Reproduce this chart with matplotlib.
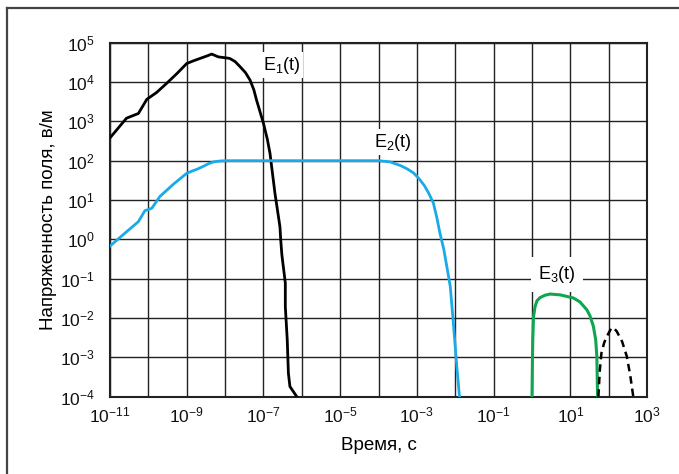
import numpy as np
import matplotlib.pyplot as plt
from matplotlib.ticker import FixedLocator, FuncFormatter, NullLocator
from matplotlib.lines import Line2D

plt.rcParams['font.family'] = ['Liberation Sans', 'DejaVu Sans']
plt.rcParams['mathtext.fontset'] = 'custom'
plt.rcParams['mathtext.rm'] = 'Liberation Sans'
plt.rcParams['mathtext.it'] = 'Liberation Sans'

# curves, as log10 values
e1_logx = [-11.0, -10.57, -10.26, -10.04, -9.79, -9.53, -9.25, -9.0, -8.82, -8.65,
           -8.45, -8.35, -8.18, -7.88, -7.74, -7.61, -7.47, -7.35, -7.25, -7.18,
           -7.0, -6.90, -6.83, -6.70, -6.57, -6.55, -6.52, -6.43, -6.43, -6.38,
           -6.35, -6.31, -6.13]
e1_logy = [2.58, 3.08, 3.20, 3.56, 3.73, 3.96, 4.22, 4.47, 4.54, 4.60,
           4.67, 4.71, 4.64, 4.60, 4.52, 4.39, 4.24, 4.05, 3.80, 3.54,
           2.95, 2.55, 2.19, 1.17, 0.32, -0.01, -0.39, -1.11, -1.71, -2.55,
           -3.40, -3.74, -4.0]

e2_logx = [-11.0, -10.74, -10.26, -10.09, -9.91, -9.70, -9.35, -9.0, -8.85, -8.74,
           -8.58, -8.44, -8.30, -8.15, -8.0, -6.0, -4.0, -3.70, -3.44, -3.25,
           -3.09, -2.95, -2.80, -2.68, -2.57, -2.48, -2.40, -2.30, -2.22, -2.13,
           -2.05, -1.96, -1.89]
e2_logy = [-0.17, 0.05, 0.45, 0.73, 0.79, 1.09, 1.40, 1.68, 1.74, 1.78,
           1.85, 1.92, 1.97, 1.99, 2.0, 2.0, 2.0, 1.97, 1.88, 1.79,
           1.69, 1.55, 1.36, 1.15, 0.92, 0.55, 0.16, -0.25, -0.69, -1.20,
           -2.13, -3.23, -4.0]

e3_logx = [0.0, 0.01, 0.02, 0.04, 0.08, 0.13, 0.21, 0.34, 0.47, 0.73,
           1.08, 1.25, 1.43, 1.51, 1.60, 1.66, 1.69, 1.71]
e3_logy = [-4.0, -3.2, -2.55, -1.96, -1.71, -1.56, -1.48, -1.42, -1.39, -1.41,
           -1.49, -1.59, -1.79, -1.94, -2.21, -2.55, -2.97, -4.0]

e4_logx = [1.73, 1.77, 1.81, 1.88, 1.95, 2.07, 2.14, 2.21, 2.35, 2.47, 2.56, 2.64]
e4_logy = [-4.0, -3.30, -2.89, -2.63, -2.47, -2.25, -2.26, -2.34, -2.60, -2.97, -3.45, -4.0]

x_decades = list(range(-11, 4))
y_decades = list(range(-4, 6))


def to_lin(v):
    return 10.0 ** np.asarray(v)


fig = plt.figure(figsize=(6.79, 4.74), dpi=100)
ax = fig.add_axes([0.162, 0.163, 0.791, 0.747])

ax.set_xscale('log')
ax.set_yscale('log')
ax.set_xlim(1e-11, 1e3)
ax.set_ylim(1e-4, 1e5)

ax.xaxis.set_major_locator(FixedLocator(to_lin(x_decades)))
ax.yaxis.set_major_locator(FixedLocator(to_lin(y_decades)))
ax.xaxis.set_minor_locator(NullLocator())
ax.yaxis.set_minor_locator(NullLocator())


def fmt_x(v, pos):
    e = int(round(np.log10(v)))
    if e % 2 == 0:
        return ''
    return r'$10^{%d}$' % e


def fmt_y(v, pos):
    e = int(round(np.log10(v)))
    return r'$10^{%d}$' % e


ax.xaxis.set_major_formatter(FuncFormatter(fmt_x))
ax.yaxis.set_major_formatter(FuncFormatter(fmt_y))
ax.tick_params(length=0, labelsize=12.5, colors='#111')
ax.tick_params(axis='x', pad=6)
ax.tick_params(axis='y', pad=11)

ax.grid(True, color='#222', linewidth=1.0)
ax.set_axisbelow(True)
for s in ax.spines.values():
    s.set_linewidth(1.5)
    s.set_color('#222')

ax.plot(to_lin(e1_logx), to_lin(e1_logy), color='black', lw=2.0, zorder=3)
ax.plot(to_lin(e2_logx), to_lin(e2_logy), color='#1AAAE8', lw=2.0, zorder=3)
ax.plot(to_lin(e3_logx), to_lin(e3_logy), color='#10A550', lw=2.2, zorder=3)
ax.plot(to_lin(e4_logx), to_lin(e4_logy), color='black', lw=1.8, ls=(0, (3, 2)), zorder=3)

box = dict(facecolor='white', edgecolor='none', pad=2)
ax.text(10 ** -6.52, 10 ** 4.43, r'E$_1$(t)', fontsize=13, ha='center', va='center', bbox=box, zorder=4)
ax.text(10 ** -3.62, 10 ** 2.47, r'E$_2$(t)', fontsize=13, ha='center', va='center', bbox=box, zorder=4)
ax.text(10 ** 0.65, 10 ** -0.9, r'E$_3$(t)', fontsize=13, ha='center', va='center',
        bbox=dict(facecolor='white', edgecolor='none', pad=5), zorder=4)

ax.set_xlabel('Время, с', fontsize=13.5, labelpad=9)
ax.set_ylabel('Напряженность поля, в/м', fontsize=13.5, labelpad=2)

# outer frame (top and left edges only)
fig.add_artist(Line2D([7 / 679, 1.0], [1 - 8 / 474, 1 - 8 / 474], color='#444', lw=1.6,
                      transform=fig.transFigure))
fig.add_artist(Line2D([7 / 679, 7 / 679], [0.0, 1 - 8 / 474], color='#444', lw=1.6,
                      transform=fig.transFigure))

fig.savefig('out.png', dpi=100)
